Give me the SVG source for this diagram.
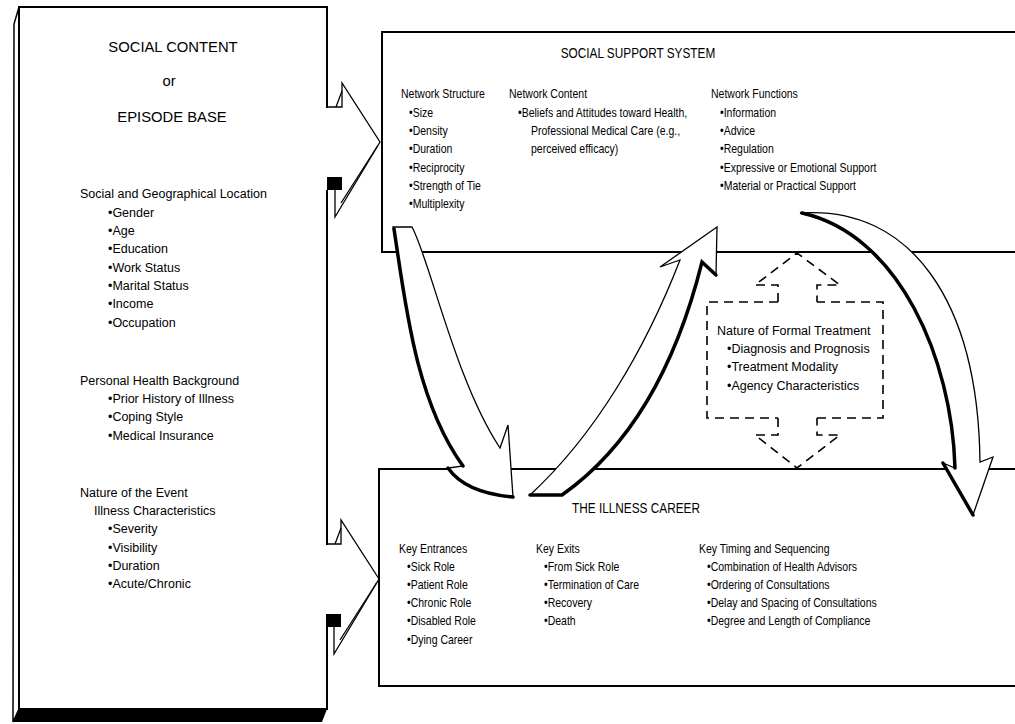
<svg xmlns="http://www.w3.org/2000/svg" width="1015" height="724" viewBox="0 0 1015 724">
<style>
.box{fill:#fff;stroke:#000;stroke-width:2}
.ln{fill:none;stroke:#000;stroke-width:1.3}
.th{fill:none;stroke:#000;stroke-width:3.5;stroke-linecap:round}
.dash{fill:none;stroke:#000;stroke-width:1.6;stroke-dasharray:9 6}
.arr{fill:#fff;stroke:#000;stroke-width:1.3;stroke-linejoin:miter}
text{fill:#000}
.w{font-family:"Liberation Sans",Arial,sans-serif;font-size:12.5px}
.wh{font-family:"Liberation Sans",Arial,sans-serif;font-size:14.8px}
.n{font-family:"Liberation Sans",Arial,sans-serif;font-size:12.8px}
.nh{font-family:"Liberation Sans",Arial,sans-serif;font-size:14.4px}
</style>
<defs>
<g id="notch">
<polygon points="325.5,108 342,108 342,83 380,142 335,217 335,190 325.5,190" fill="#fff"/>
<path class="ln" d="M327,107 H342 V83 L380,142 L335,217 V190"/>
<path class="ln" d="M377.5,146 L341,203"/>
<path class="ln" d="M336,107 L342,91"/>
<rect x="327" y="177" width="15" height="13" fill="#000"/>
</g>
</defs>
<rect width="1015" height="724" fill="#fff"/>

<g id="social-content">
<polygon points="19,7 14,24 13,722 19,709" class="box" style="stroke-width:1.5"/>
<rect class="box" x="19" y="7" width="308" height="702"/>
<polygon points="19,709 327,709 322,722 13,722" fill="#000"/>
<use href="#notch"/>
<use href="#notch" transform="translate(-1,437)"/>
<text class="wh" x="173" y="52" text-anchor="middle">SOCIAL CONTENT</text>
<text class="wh" x="169" y="86" text-anchor="middle">or</text>
<text class="wh" x="172" y="122" text-anchor="middle">EPISODE BASE</text>
<text class="w" x="80" y="198">Social and Geographical Location</text>
<text class="w" x="108" y="217">•Gender</text>
<text class="w" x="108" y="235">•Age</text>
<text class="w" x="108" y="253">•Education</text>
<text class="w" x="108" y="272">•Work Status</text>
<text class="w" x="108" y="290">•Marital Status</text>
<text class="w" x="108" y="308">•Income</text>
<text class="w" x="108" y="327">•Occupation</text>
<text class="w" x="80" y="385">Personal Health Background</text>
<text class="w" x="108" y="403">•Prior History of Illness</text>
<text class="w" x="108" y="421">•Coping Style</text>
<text class="w" x="108" y="440">•Medical Insurance</text>
<text class="w" x="80" y="497">Nature of the Event</text>
<text class="w" x="94" y="515">Illness Characteristics</text>
<text class="w" x="108" y="533">•Severity</text>
<text class="w" x="108" y="552">•Visibility</text>
<text class="w" x="108" y="570">•Duration</text>
<text class="w" x="108" y="588">•Acute/Chronic</text>
</g>

<g id="social-support-system">
<rect class="box" x="382" y="32" width="645" height="220"/>
<text class="nh" transform="translate(638,58) scale(0.82,1)" text-anchor="middle">SOCIAL SUPPORT SYSTEM</text>
<text class="n" transform="translate(401,98) scale(0.82,1)">Network Structure</text>
<text class="n" transform="translate(409,117) scale(0.82,1)">•Size</text>
<text class="n" transform="translate(409,135) scale(0.82,1)">•Density</text>
<text class="n" transform="translate(409,153) scale(0.82,1)">•Duration</text>
<text class="n" transform="translate(409,172) scale(0.82,1)">•Reciprocity</text>
<text class="n" transform="translate(409,190) scale(0.82,1)">•Strength of Tie</text>
<text class="n" transform="translate(409,208) scale(0.82,1)">•Multiplexity</text>
<text class="n" transform="translate(509,98) scale(0.82,1)">Network Content</text>
<text class="n" transform="translate(518,117) scale(0.82,1)">•Beliefs and Attitudes toward Health,</text>
<text class="n" transform="translate(531,135) scale(0.82,1)">Professional Medical Care (e.g.,</text>
<text class="n" transform="translate(531,153) scale(0.82,1)">perceived efficacy)</text>
<text class="n" transform="translate(711,98) scale(0.82,1)">Network Functions</text>
<text class="n" transform="translate(720,117) scale(0.82,1)">•Information</text>
<text class="n" transform="translate(720,135) scale(0.82,1)">•Advice</text>
<text class="n" transform="translate(720,153) scale(0.82,1)">•Regulation</text>
<text class="n" transform="translate(720,172) scale(0.82,1)">•Expressive or Emotional Support</text>
<text class="n" transform="translate(720,190) scale(0.82,1)">•Material or Practical Support</text>
</g>

<g id="illness-career">
<rect class="box" x="379" y="469" width="645" height="217"/>
<text class="nh" transform="translate(636,513) scale(0.82,1)" text-anchor="middle">THE ILLNESS CAREER</text>
<text class="n" transform="translate(399,553) scale(0.82,1)">Key Entrances</text>
<text class="n" transform="translate(407,571) scale(0.82,1)">•Sick Role</text>
<text class="n" transform="translate(407,589) scale(0.82,1)">•Patient Role</text>
<text class="n" transform="translate(407,607) scale(0.82,1)">•Chronic Role</text>
<text class="n" transform="translate(407,625) scale(0.82,1)">•Disabled Role</text>
<text class="n" transform="translate(407,644) scale(0.82,1)">•Dying Career</text>
<text class="n" transform="translate(536,553) scale(0.82,1)">Key Exits</text>
<text class="n" transform="translate(544,571) scale(0.82,1)">•From Sick Role</text>
<text class="n" transform="translate(544,589) scale(0.82,1)">•Termination of Care</text>
<text class="n" transform="translate(544,607) scale(0.82,1)">•Recovery</text>
<text class="n" transform="translate(544,625) scale(0.82,1)">•Death</text>
<text class="n" transform="translate(699,553) scale(0.82,1)">Key Timing and Sequencing</text>
<text class="n" transform="translate(707,571) scale(0.82,1)">•Combination of Health Advisors</text>
<text class="n" transform="translate(707,589) scale(0.82,1)">•Ordering of Consultations</text>
<text class="n" transform="translate(707,607) scale(0.82,1)">•Delay and Spacing of Consultations</text>
<text class="n" transform="translate(707,625) scale(0.82,1)">•Degree and Length of Compliance</text>
</g>

<g id="formal-treatment">
<path class="dash" d="M778,302 H707 V418 H778 M817,418 H883 V302 H817"/>
<text class="w" x="717" y="335">Nature of Formal Treatment</text>
<text class="w" x="727" y="353">•Diagnosis and Prognosis</text>
<text class="w" x="727" y="371">•Treatment Modality</text>
<text class="w" x="727" y="390">•Agency Characteristics</text>
</g>

<g id="connectors">
<path class="dash" d="M778,302 V285 H755 L797,253 L840,285 H817 V302"/>
<path class="dash" d="M778,418 V435 H755 L797,468 L840,435 H817 V418"/>
<path class="arr" d="M412,227 C430,260 455,380 500,448 L508,425 L513,497 C490,495 462,488 448,468 L463,466 C415,400 405,300 393,227 Z"/>
<path class="th" d="M394,229 C405,300 415,400 463,466 M448,468 C462,488 490,495 513,497"/>
<path class="arr" d="M530,495 C595,435 645,350 680,260 L660,267 L717,227 L716,275 L702,262 C680,350 640,440 562,495 Z"/>
<path class="th" d="M530,495 H562 C640,440 680,350 702,262 L716,275"/>
<path class="arr" d="M800,213 C910,205 978,300 980,462 L993,457 L973,515 L943,463 L955,468 C952,360 900,235 800,213 Z"/>
<path class="th" d="M802,213 C900,235 952,360 955,468 M943,463 L973,515"/>
</g>
</svg>
